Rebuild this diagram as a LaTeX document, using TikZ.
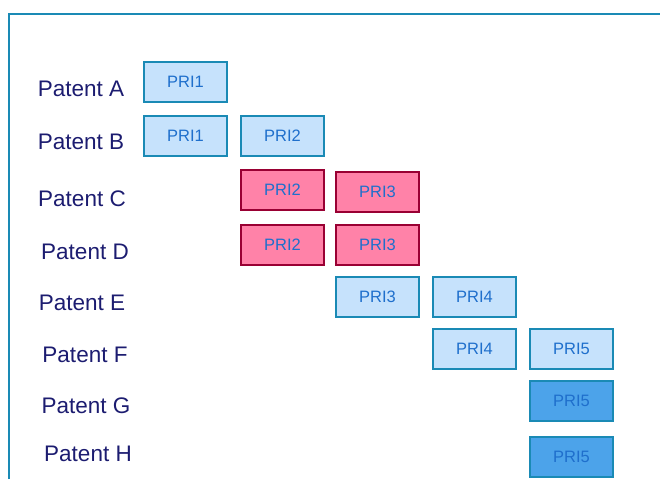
\documentclass[tikz,border=0pt]{standalone}
\usepackage{fontspec}
\setmainfont{Liberation Sans}
\usetikzlibrary{positioning}
\definecolor{frameblue}{HTML}{1A8AB5}
\definecolor{labelnavy}{HTML}{1C1C70}
\definecolor{pritext}{HTML}{1F6FCC}
\definecolor{lightfill}{HTML}{C6E2FC}
\definecolor{pinkfill}{HTML}{FF82A8}
\definecolor{pinkedge}{HTML}{990033}
\definecolor{darkfill}{HTML}{4CA3EA}
\tikzset{
	pri/.style={draw=frameblue, fill=lightfill, line width=2pt, minimum width=83pt,
		minimum height=40pt, inner sep=0pt, text=pritext, font=\fontsize{16.5}{18}\selectfont},
	prishared/.style={pri, draw=pinkedge, fill=pinkfill},
	pridark/.style={pri, fill=darkfill},
	patent/.style={text=labelnavy, inner sep=0pt, font=\fontsize{22.5}{24}\selectfont}
}

\begin{document}
\begin{tikzpicture}[x=1pt, y=-1pt]
	\useasboundingbox (0, 0) rectangle (660, 479);
	% open frame
	\draw [frameblue, line width=2pt] (9, 479) -- (9, 14) -- (662, 14);

	% patent names
	\node[patent] (pa) at (81, 89) {Patent A};
	\node[patent] (pb) at (81, 142) {Patent B};
	\node[patent] (pc) at (82, 199) {Patent C};
	\node[patent] (pd) at (85, 252) {Patent D};
	\node[patent] (pe) at (82, 303) {Patent E};
	\node[patent] (pf) at (85, 355) {Patent F};
	\node[patent] (pg) at (86, 406) {Patent G};
	\node[patent] (ph) at (88, 454) {Patent H};

	% priorities
	\node[pri] (a1) at (185.5, 82) {PRI1};

	\node[pri] (b1) at (185.5, 136) {PRI1};
	\node[pri] (b2) at (282.5, 136) {PRI2};

	\node[prishared] (c2) at (282.5, 190) {PRI2};
	\node[prishared] (c3) at (377.5, 192) {PRI3};

	\node[prishared] (d2) at (282.5, 245) {PRI2};
	\node[prishared] (d3) at (377.5, 245) {PRI3};

	\node[pri] (e3) at (377.5, 297) {PRI3};
	\node[pri] (e4) at (474.5, 297) {PRI4};

	\node[pri] (f4) at (474.5, 349) {PRI4};
	\node[pri] (f5) at (571.5, 349) {PRI5};

	\node[pridark] (g5) at (571.5, 401) {PRI5};

	\node[pridark] (h5) at (571.5, 457) {PRI5};
\end{tikzpicture}
\end{document}
